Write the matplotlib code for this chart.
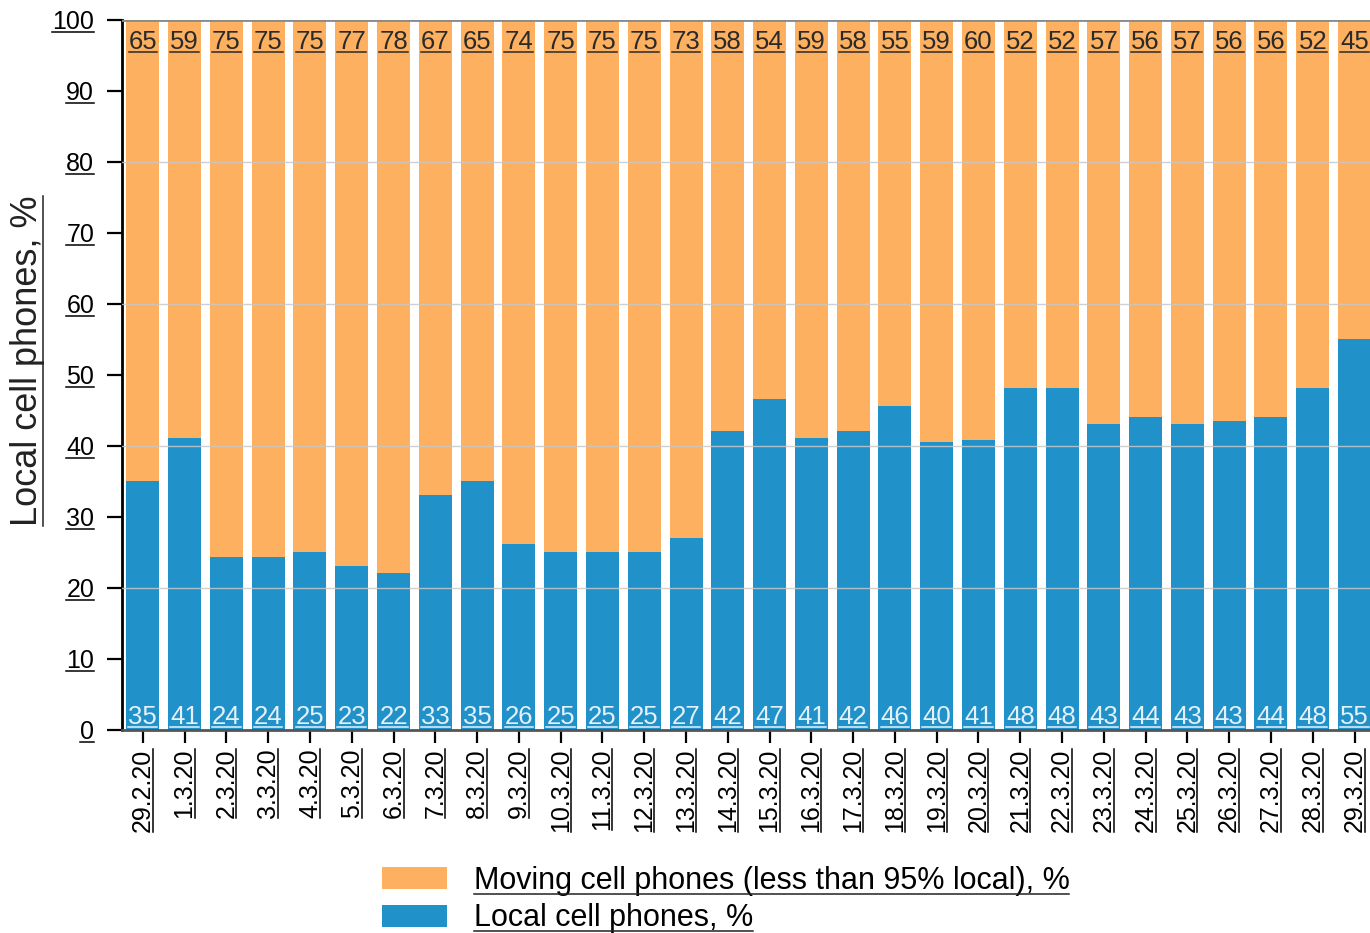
import matplotlib
matplotlib.use('Agg')
import matplotlib.pyplot as plt
import numpy as np
from matplotlib.lines import Line2D
from matplotlib.transforms import IdentityTransform

plt.rcParams['font.family'] = ['Liberation Sans', 'DejaVu Sans']

# Data
dates = ['29.2.20', '1.3.20', '2.3.20', '3.3.20', '4.3.20', '5.3.20', '6.3.20',
         '7.3.20', '8.3.20', '9.3.20', '10.3.20', '11.3.20', '12.3.20', '13.3.20',
         '14.3.20', '15.3.20', '16.3.20', '17.3.20', '18.3.20', '19.3.20',
         '20.3.20', '21.3.20', '22.3.20', '23.3.20', '24.3.20', '25.3.20',
         '26.3.20', '27.3.20', '28.3.20', '29.3.20']
local_pct = [35.1, 41.1, 24.4, 24.4, 25.1, 23.1, 22.1, 33.1, 35.1, 26.2,
             25.1, 25.1, 25.1, 27.0, 42.1, 46.6, 41.1, 42.1, 45.6, 40.6,
             40.8, 48.1, 48.1, 43.1, 44.1, 43.1, 43.5, 44.1, 48.1, 55.1]
local_labels = [35, 41, 24, 24, 25, 23, 22, 33, 35, 26, 25, 25, 25, 27, 42,
                47, 41, 42, 46, 40, 41, 48, 48, 43, 44, 43, 43, 44, 48, 55]
moving_labels = [65, 59, 75, 75, 75, 77, 78, 67, 65, 74, 75, 75, 75, 73, 58,
                 54, 59, 58, 55, 59, 60, 52, 52, 57, 56, 57, 56, 56, 52, 45]

ORANGE = '#FDB160'
BLUE = '#2191C9'

fig = plt.figure(figsize=(13.7, 9.33), dpi=100)
ax = fig.add_axes([0.089, 0.2176, 0.911, 0.761])

x = np.arange(len(dates))
local = np.array(local_pct)
moving = 100 - local

b_local = ax.bar(x, local, width=0.79, color=BLUE, label='Local cell phones, %', zorder=2)
b_moving = ax.bar(x, moving, width=0.79, bottom=local, color=ORANGE,
                  label='Moving cell phones (less than 95% local), %', zorder=2)

# gridlines drawn over the bars
for g in [20, 40, 60, 80]:
    ax.axhline(g, color='#c8c8c8', lw=1, alpha=0.85, zorder=3)
ax.axhline(100, color='#8a8a8a', lw=2, zorder=3)

# value labels
bar_texts_dark = []
bar_texts_light = []
for i in x:
    bar_texts_dark.append(ax.text(i, 98.6, str(moving_labels[i]), ha='center', va='top',
                                  fontsize=18.5, color='#2a2a2a', zorder=4))
    bar_texts_light.append(ax.text(i, 0.9, str(local_labels[i]), ha='center', va='baseline',
                                   fontsize=18.5, color='#e4f1fa', zorder=4))

ax.set_xlim(-0.5, 29.37)
ax.set_ylim(0, 100)
ax.set_yticks(np.arange(0, 101, 10))
ax.set_xticks(x)
ax.set_xticklabels(dates, rotation=90)

for s in ['top', 'right']:
    ax.spines[s].set_visible(False)
ax.spines['left'].set_linewidth(2)
ax.spines['left'].set_color('black')
ax.spines['bottom'].set_linewidth(2)
ax.spines['bottom'].set_color('#555555')
ax.tick_params(axis='y', length=11, width=1.6, pad=9, labelsize=18, colors='black')
ax.tick_params(axis='x', length=9.5, width=1.6, pad=4, labelsize=18, colors='black')

ax.set_ylabel('Local cell phones, %', fontsize=26, color='#222222')
ax.yaxis.set_label_coords(-0.062, 0.52)

leg = fig.legend(handles=[b_moving, b_local], loc='upper left',
                 bbox_to_anchor=(0.2788, 0.072), frameon=False, fontsize=22,
                 handlelength=2.12, handleheight=0.75, handletextpad=0.88,
                 labelspacing=0.25, borderpad=0, borderaxespad=0)


def underline(texts, color, vertical=False, lw=1.1):
    # the chart has every text underlined; draw lines under the rendered text
    renderer = fig.canvas.get_renderer()
    for t in texts:
        if not t.get_text():
            continue
        bb = t.get_window_extent(renderer)
        if vertical:
            xs = [bb.x1 - 2, bb.x1 - 2]
            ys = [bb.y0, bb.y1]
        else:
            xs = [bb.x0, bb.x1]
            ys = [bb.y0 + 2, bb.y0 + 2]
        fig.add_artist(Line2D(xs, ys, transform=IdentityTransform(),
                              color=color, lw=lw, zorder=10))


fig.canvas.draw()
underline(ax.get_yticklabels(), 'black')
underline(ax.get_xticklabels(), 'black', vertical=True)
underline([ax.yaxis.label], '#222222', vertical=True)
underline(bar_texts_dark, '#2a2a2a')
underline(bar_texts_light, '#e4f1fa')
underline(leg.get_texts(), '#222222')

fig.savefig('out.png', dpi=100)
